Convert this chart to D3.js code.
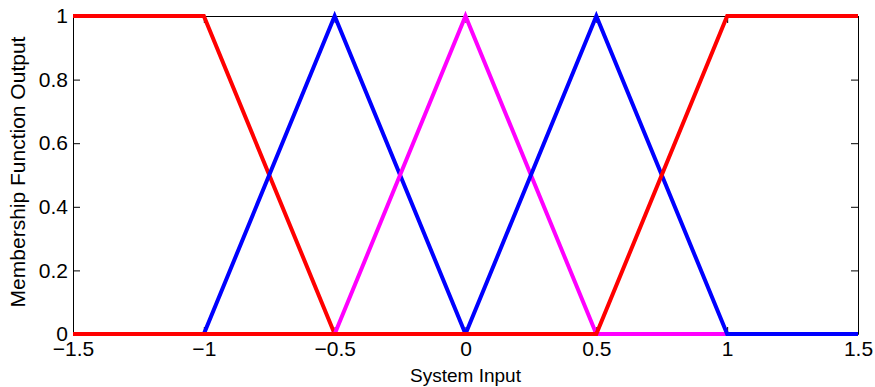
<!DOCTYPE html>
<html>
<head>
<meta charset="utf-8">
<script src="https://cdn.jsdelivr.net/npm/d3@7/dist/d3.min.js"></script>
<style>
  html, body { margin: 0; padding: 0; background: #fff; }
  svg { display: block; font-family: "Liberation Sans", Arial, Helvetica, sans-serif; }
</style>
</head>
<body>
<svg id="chart" width="875" height="387"></svg>
<script>
// Membership functions, each given by its breakpoints over the input range
const mfNames = ["NB", "NS", "ZE", "PS", "PB"];
const mfColors = ["#ff0000", "#0000ff", "#ff00ff", "#0000ff", "#ff0000"];
const mfX = [
  [-1.5, -1, -0.5, 1.5],
  [-1.5, -1, -0.5, 0, 1.5],
  [-1.5, -0.5, 0, 0.5, 1.5],
  [-1.5, 0, 0.5, 1, 1.5],
  [-1.5, 0.5, 1, 1.5]
];
const mfY = [
  [1, 1, 0, 0],
  [0, 0, 1, 0, 0],
  [0, 0, 1, 0, 0],
  [0, 0, 1, 0, 0],
  [0, 0, 1, 1]
];
const xTicks = [-1.5, -1, -0.5, 0, 0.5, 1, 1.5];
const yTicks = [0, 0.2, 0.4, 0.6, 0.8, 1];

const W = 875, H = 387;
const margin = { left: 73, right: 17, top: 16, bottom: 53 };
const svg = d3.select("#chart");

const x = d3.scaleLinear().domain([-1.5, 1.5]).range([margin.left, W - margin.right]);
const y = d3.scaleLinear().domain([0, 1]).range([H - margin.bottom, margin.top]);

const tickLen = 7;
const fmt = d => (d === 0 ? "0" : d3.format("")(d));

// Axes on all four sides with inward ticks
const gBottom = svg.append("g").attr("transform", `translate(0,${y(0)})`)
  .call(d3.axisBottom(x).tickValues(xTicks).tickFormat(fmt).tickSizeInner(-tickLen).tickSizeOuter(0).tickPadding(7));
const gTop = svg.append("g").attr("transform", `translate(0,${y(1)})`)
  .call(d3.axisTop(x).tickValues(xTicks).tickFormat("").tickSizeInner(-tickLen).tickSizeOuter(0));
const gLeft = svg.append("g").attr("transform", `translate(${x(-1.5)},0)`)
  .call(d3.axisLeft(y).tickValues(yTicks).tickFormat(fmt).tickSizeInner(-tickLen).tickSizeOuter(0).tickPadding(5));
const gRight = svg.append("g").attr("transform", `translate(${x(1.5)},0)`)
  .call(d3.axisRight(y).tickValues(yTicks).tickFormat("").tickSizeInner(-tickLen).tickSizeOuter(0));

[gBottom, gTop, gLeft, gRight].forEach(g => {
  g.selectAll(".domain").attr("stroke", "#000").attr("stroke-width", 1);
  g.selectAll(".tick line").attr("stroke", "#000").attr("stroke-width", 1);
  g.selectAll("text").attr("fill", "#000").style("font-size", "21px")
    .style("font-family", "\"Liberation Sans\", Arial, sans-serif");
});

// Membership curves, drawn in order so the later ones sit on top
const line = d3.line().x(d => x(d[0])).y(d => y(d[1]));
mfX.forEach((xs, i) => {
  const pts = xs.map((v, j) => [v, mfY[i][j]]);
  svg.append("path")
    .datum(pts)
    .attr("class", "mf " + mfNames[i])
    .attr("fill", "none")
    .attr("stroke", mfColors[i])
    .attr("stroke-width", 4)
    .attr("stroke-linejoin", "miter")
    .attr("d", line);
});

// Axis titles
svg.append("text")
  .attr("x", (x(-1.5) + x(1.5)) / 2)
  .attr("y", 382)
  .attr("text-anchor", "middle")
  .style("font-size", "19px")
  .text("System Input");

svg.append("text")
  .attr("transform", `translate(25,${(y(0) + y(1)) / 2 - 3}) rotate(-90)`)
  .attr("text-anchor", "middle")
  .style("font-size", "21px")
  .text("Membership Function Output");
</script>
</body>
</html>
